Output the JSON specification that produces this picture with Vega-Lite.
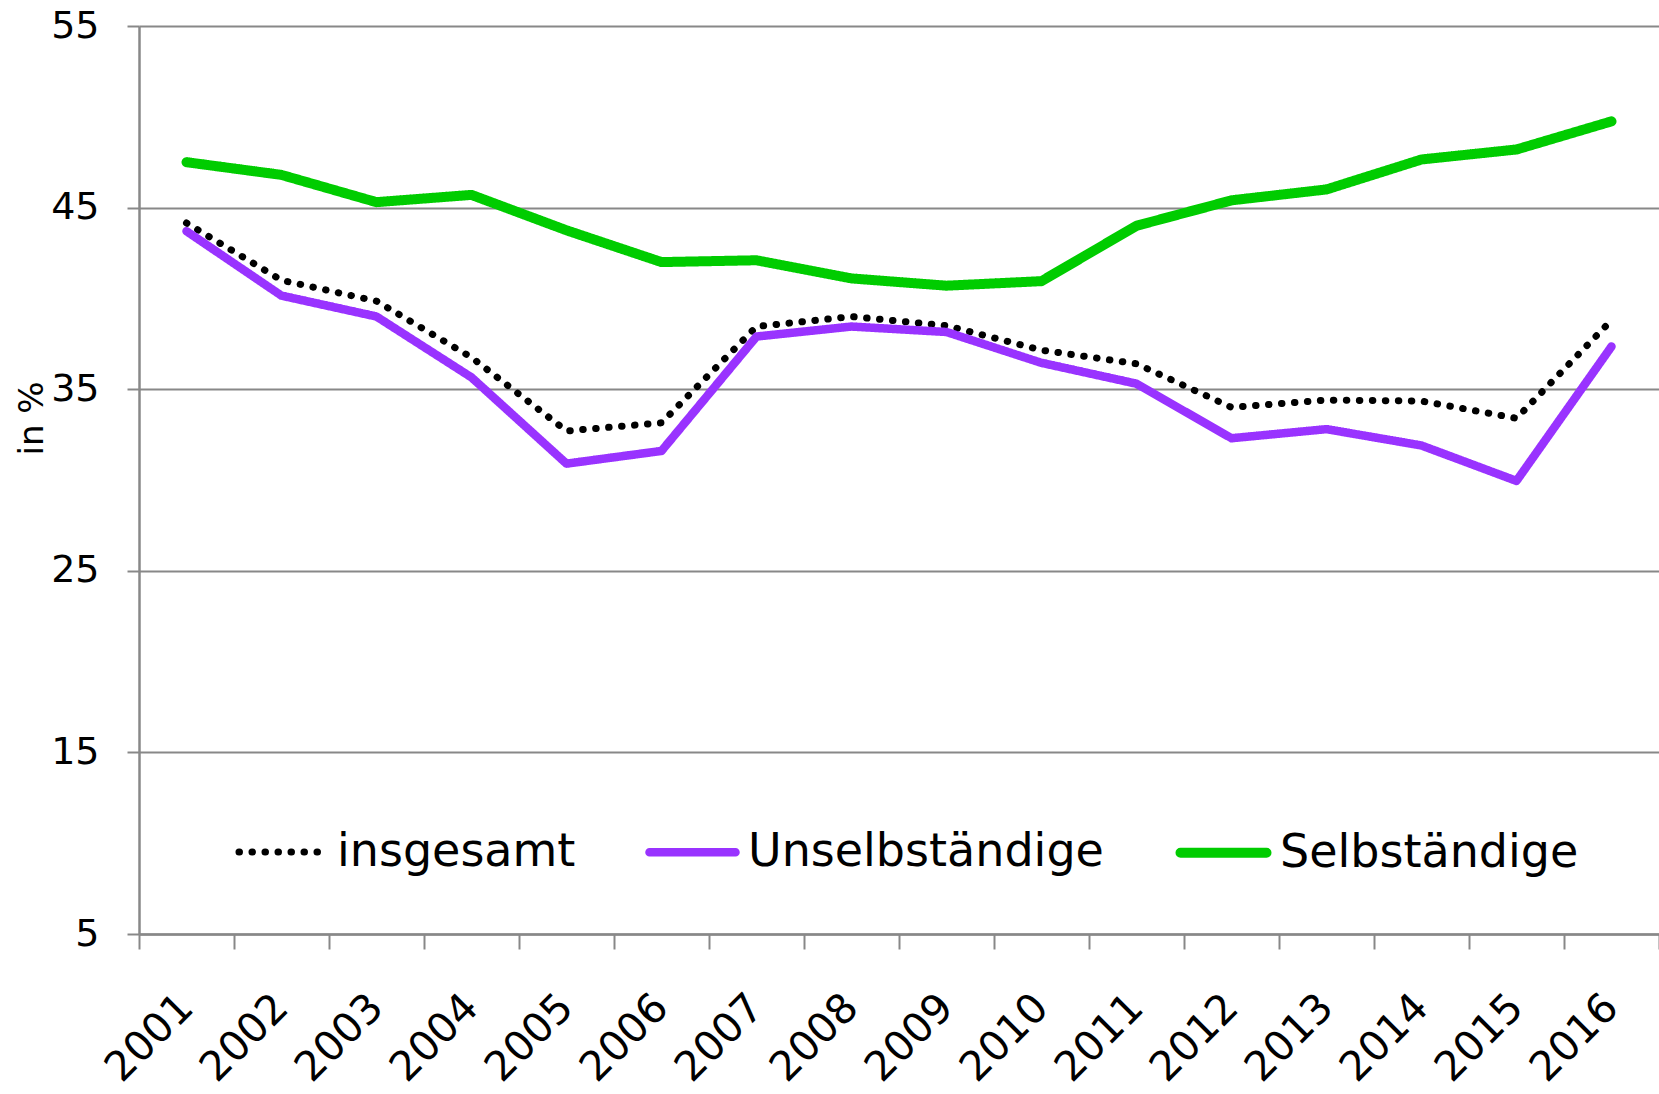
{
  "$schema": "https://vega.github.io/schema/vega-lite/v6.json",
  "autosize": "none",
  "width": 1520,
  "height": 908,
  "padding": {"left": 139, "top": 26, "right": 0, "bottom": 160},
  "background": "white",
  "config": {
    "view": {"stroke": null},
    "font": "DejaVu Sans"
  },
  "data": {
    "values": [
      {"year": "2001", "series": "insgesamt", "value": 44.15},
      {"year": "2002", "series": "insgesamt", "value": 41.0},
      {"year": "2003", "series": "insgesamt", "value": 39.85},
      {"year": "2004", "series": "insgesamt", "value": 36.75},
      {"year": "2005", "series": "insgesamt", "value": 32.7},
      {"year": "2006", "series": "insgesamt", "value": 33.15},
      {"year": "2007", "series": "insgesamt", "value": 38.45},
      {"year": "2008", "series": "insgesamt", "value": 39.0},
      {"year": "2009", "series": "insgesamt", "value": 38.5},
      {"year": "2010", "series": "insgesamt", "value": 37.15},
      {"year": "2011", "series": "insgesamt", "value": 36.4},
      {"year": "2012", "series": "insgesamt", "value": 34.0},
      {"year": "2013", "series": "insgesamt", "value": 34.4},
      {"year": "2014", "series": "insgesamt", "value": 34.35},
      {"year": "2015", "series": "insgesamt", "value": 33.4},
      {"year": "2016", "series": "insgesamt", "value": 38.8},
      {"year": "2001", "series": "Unselbständige", "value": 43.7},
      {"year": "2002", "series": "Unselbständige", "value": 40.15},
      {"year": "2003", "series": "Unselbständige", "value": 39.0},
      {"year": "2004", "series": "Unselbständige", "value": 35.65},
      {"year": "2005", "series": "Unselbständige", "value": 30.9},
      {"year": "2006", "series": "Unselbständige", "value": 31.6},
      {"year": "2007", "series": "Unselbständige", "value": 37.9},
      {"year": "2008", "series": "Unselbständige", "value": 38.45},
      {"year": "2009", "series": "Unselbständige", "value": 38.15},
      {"year": "2010", "series": "Unselbständige", "value": 36.45},
      {"year": "2011", "series": "Unselbständige", "value": 35.3},
      {"year": "2012", "series": "Unselbständige", "value": 32.3},
      {"year": "2013", "series": "Unselbständige", "value": 32.8},
      {"year": "2014", "series": "Unselbständige", "value": 31.9},
      {"year": "2015", "series": "Unselbständige", "value": 29.95},
      {"year": "2016", "series": "Unselbständige", "value": 37.35},
      {"year": "2001", "series": "Selbständige", "value": 47.5},
      {"year": "2002", "series": "Selbständige", "value": 46.8},
      {"year": "2003", "series": "Selbständige", "value": 45.3},
      {"year": "2004", "series": "Selbständige", "value": 45.7},
      {"year": "2005", "series": "Selbständige", "value": 43.75},
      {"year": "2006", "series": "Selbständige", "value": 42.0},
      {"year": "2007", "series": "Selbständige", "value": 42.1},
      {"year": "2008", "series": "Selbständige", "value": 41.1},
      {"year": "2009", "series": "Selbständige", "value": 40.7},
      {"year": "2010", "series": "Selbständige", "value": 40.95},
      {"year": "2011", "series": "Selbständige", "value": 44.0},
      {"year": "2012", "series": "Selbständige", "value": 45.4},
      {"year": "2013", "series": "Selbständige", "value": 46.0},
      {"year": "2014", "series": "Selbständige", "value": 47.65},
      {"year": "2015", "series": "Selbständige", "value": 48.2},
      {"year": "2016", "series": "Selbständige", "value": 49.75}
    ]
  },
  "mark": {"type": "line", "strokeCap": "round", "strokeJoin": "round"},
  "encoding": {
    "x": {
      "field": "year",
      "type": "nominal",
      "title": null,
      "scale": {"paddingInner": 0, "paddingOuter": 0},
      "axis": {
        "labelAngle": -45,
        "labelAlign": "right",
        "labelBaseline": "middle",
        "labelFont": "DejaVu Sans",
        "labelFontSize": 41,
        "labelColor": "black",
        "labelPadding": 52,
        "tickBand": "extent",
        "tickSize": 15,
        "tickColor": "#888888",
        "tickWidth": 2,
        "domainColor": "#888888",
        "domainWidth": 2.5,
        "grid": false
      }
    },
    "y": {
      "field": "value",
      "type": "quantitative",
      "title": "in %",
      "scale": {"domain": [5, 55], "nice": false, "zero": false},
      "axis": {
        "values": [5, 15, 25, 35, 45, 55],
        "labelFont": "DejaVu Sans",
        "labelFontSize": 38,
        "labelColor": "black",
        "labelPadding": 28,
        "tickSize": 12,
        "tickColor": "#888888",
        "tickWidth": 2,
        "domainColor": "#888888",
        "domainWidth": 2.5,
        "grid": true,
        "gridColor": "#888888",
        "gridWidth": 2,
        "titleFont": "DejaVu Sans",
        "titleFontSize": 34,
        "titleFontWeight": "normal",
        "titleColor": "black",
        "titleX": -107,
        "titleY": 392,
        "titleAngle": -90,
        "titleBaseline": "middle",
        "titleAlign": "center"
      }
    },
    "color": {
      "field": "series",
      "type": "nominal",
      "title": null,
      "sort": ["insgesamt", "Unselbständige", "Selbständige"],
      "scale": {
        "domain": ["insgesamt", "Unselbständige", "Selbständige"],
        "range": ["#000000", "#9933FF", "#00CC00"]
      },
      "legend": {
        "orient": "none",
        "legendX": 96,
        "legendY": 778,
        "direction": "horizontal",
        "symbolType": "stroke",
        "symbolSize": 7400,
        "symbolStrokeWidth": 10,
        "labelFont": "DejaVu Sans",
        "labelFontSize": 46,
        "labelColor": "black",
        "labelOffset": 8,
        "columnPadding": 56,
        "labelLimit": 600,
        "encode": {
          "symbols": {
            "update": {
              "strokeCap": {"value": "round"},
              "strokeWidth": {"value": 10}
            }
          }
        }
      }
    },
    "strokeDash": {
      "field": "series",
      "type": "nominal",
      "sort": ["insgesamt", "Unselbständige", "Selbständige"],
      "scale": {
        "domain": ["insgesamt", "Unselbständige", "Selbständige"],
        "range": [[0.5, 12.5], [1, 0], [1, 0]]
      },
      "legend": null
    },
    "strokeWidth": {
      "field": "series",
      "type": "nominal",
      "sort": ["insgesamt", "Unselbständige", "Selbständige"],
      "scale": {
        "domain": ["insgesamt", "Unselbständige", "Selbständige"],
        "range": [7, 10, 10]
      },
      "legend": null
    }
  }
}
